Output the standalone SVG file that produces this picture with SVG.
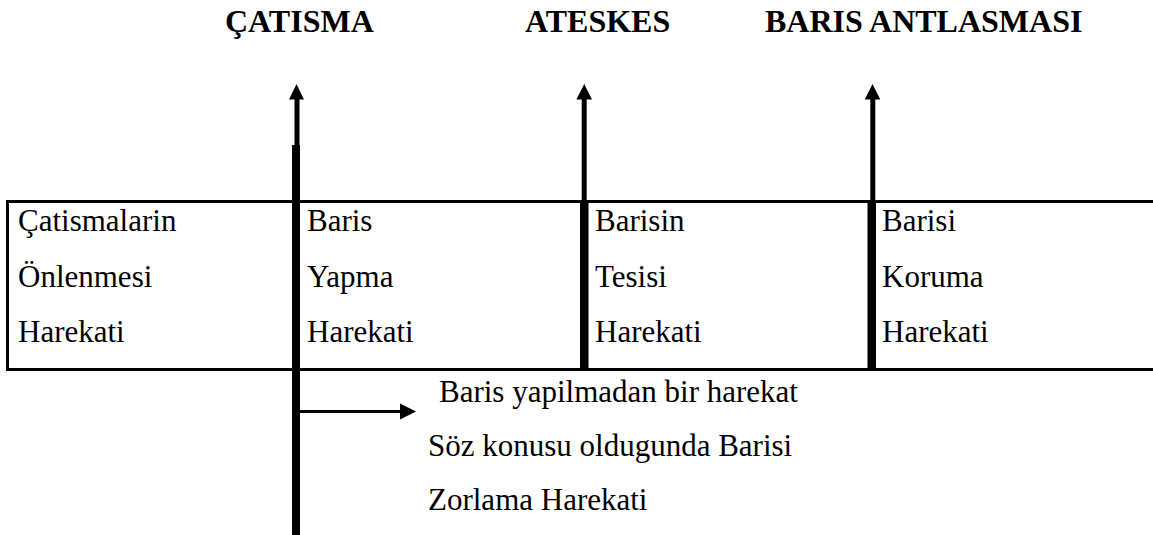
<svg xmlns="http://www.w3.org/2000/svg" width="1153" height="535" viewBox="0 0 1153 535">
<style>
.h{font-family:"Liberation Serif","Times New Roman",serif;font-weight:bold;font-size:32px;fill:#000}
.t{font-family:"Liberation Serif","Times New Roman",serif;font-size:31px;fill:#000}
.k{fill:#000}
</style>
<rect width="1153" height="535" fill="#fff"/>
<g id="headers">
<text class="h" x="225" y="32">ÇATISMA</text>
<text class="h" x="525" y="32">ATESKES</text>
<text class="h" x="765" y="32">BARIS ANTLASMASI</text>
</g>
<g id="table">
<rect class="k" x="6" y="200" width="1147" height="3"/>
<rect class="k" x="6" y="368" width="1147" height="3"/>
<rect class="k" x="6" y="200" width="3" height="171"/>
</g>
<g id="col1">
<text class="t" x="18" y="231">Çatismalarin</text>
<text class="t" x="18" y="287">Önlenmesi</text>
<text class="t" x="18" y="342">Harekati</text>
</g>
<g id="col2">
<text class="t" x="307" y="231">Baris</text>
<text class="t" x="307" y="287">Yapma</text>
<text class="t" x="307" y="342">Harekati</text>
</g>
<g id="col3">
<text class="t" x="595" y="231">Barisin</text>
<text class="t" x="595" y="287">Tesisi</text>
<text class="t" x="595" y="342">Harekati</text>
</g>
<g id="col4">
<text class="t" x="882" y="231">Barisi</text>
<text class="t" x="882" y="287">Koruma</text>
<text class="t" x="882" y="342">Harekati</text>
</g>
<g id="note">
<text class="t" x="439" y="402">Baris yapilmadan bir harekat</text>
<text class="t" x="428" y="456">Söz konusu oldugunda Barisi</text>
<text class="t" x="428" y="510">Zorlama Harekati</text>
</g>
<g id="connectors">
<rect class="k" x="292" y="145" width="8" height="390"/>
<rect class="k" x="294.5" y="98" width="5" height="57"/>
<polygon class="k" points="296.5,84 304,99.5 289,99.5"/>
<rect class="k" x="581.7" y="98" width="5" height="103"/>
<rect class="k" x="580" y="200" width="8.5" height="170"/>
<polygon class="k" points="584.2,84 592,99.5 576.4,99.5"/>
<rect class="k" x="870.3" y="98" width="5" height="103"/>
<rect class="k" x="867.5" y="200" width="8.5" height="170"/>
<polygon class="k" points="872.5,84 880.3,99.5 864.7,99.5"/>
<rect class="k" x="300" y="410" width="101" height="3"/>
<polygon class="k" points="416,411.5 400,403.5 400,419.5"/>
</g>
</svg>
